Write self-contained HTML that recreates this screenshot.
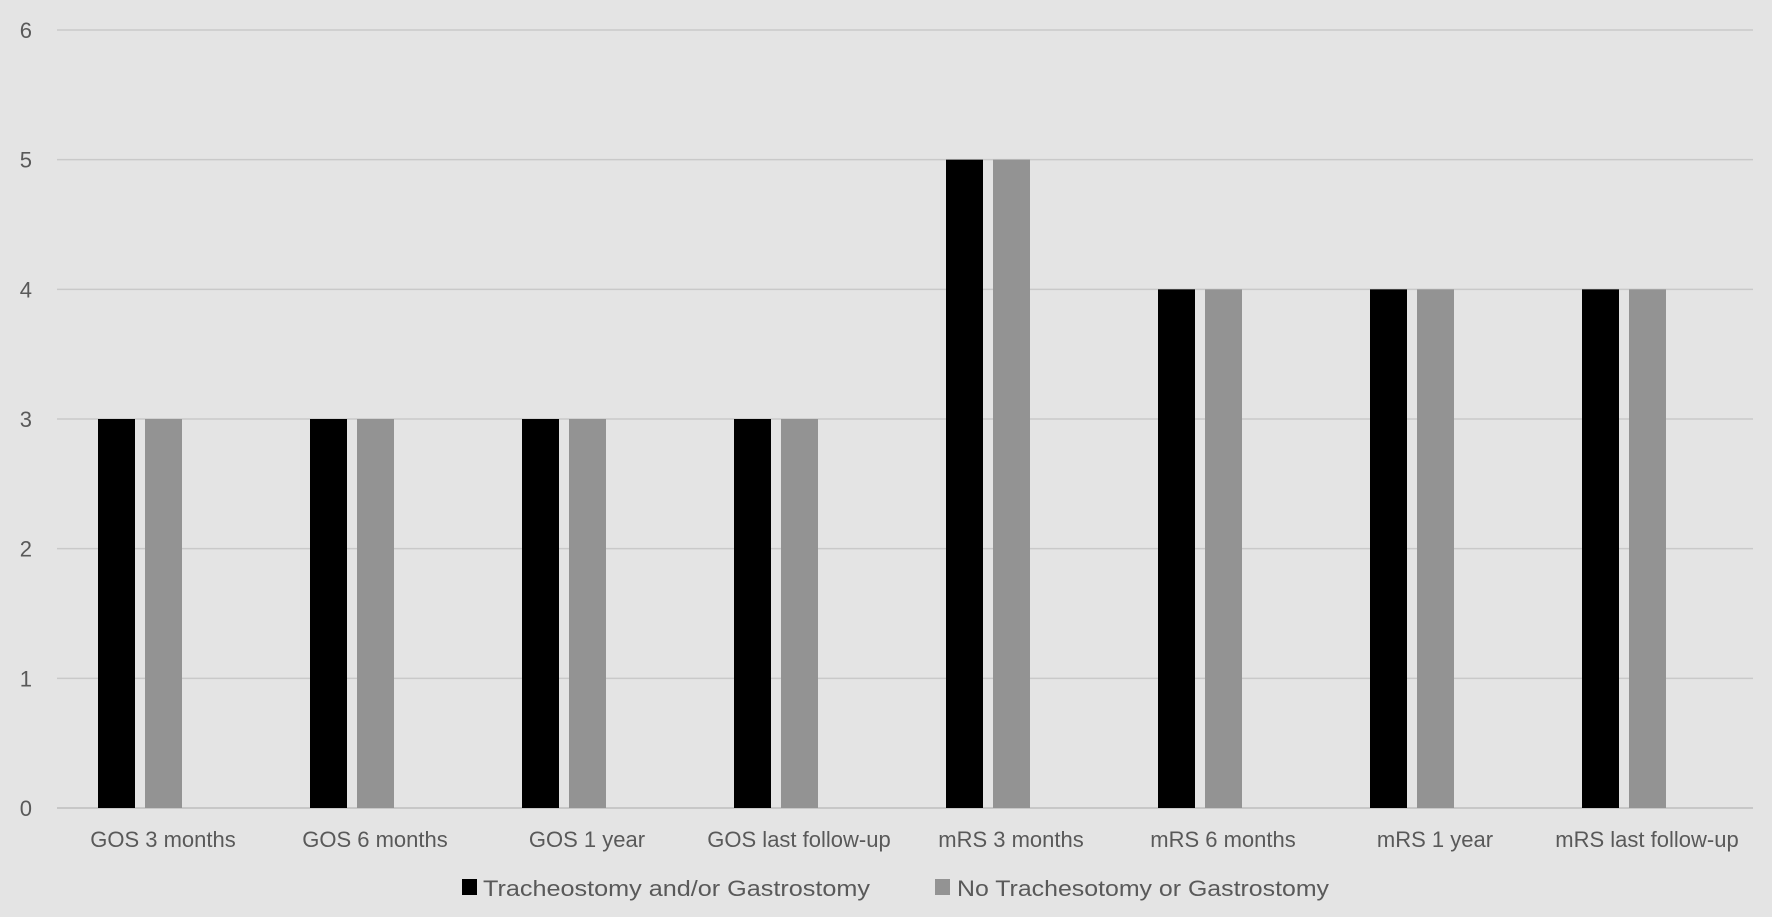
<!DOCTYPE html>
<html><head><meta charset="utf-8"><style>
html,body{margin:0;padding:0;background:#e4e4e4;}
svg{display:block;font-family:"Liberation Sans",sans-serif;}
</style></head><body>
<svg id="chart" width="1772" height="917" viewBox="0 0 1772 917" xmlns="http://www.w3.org/2000/svg">
<rect width="1772" height="917" fill="#e4e4e4"/>
<g id="grid"></g><g id="bars"></g><g id="labels"></g>
<g>
<rect x="462" y="879" width="15" height="16" fill="#000"/>
<text x="483" y="896" font-size="22" fill="#595959" textLength="387" lengthAdjust="spacingAndGlyphs">Tracheostomy and/or Gastrostomy</text>
<rect x="935" y="879" width="15" height="16" fill="#939393"/>
<text x="957" y="896" font-size="22" fill="#595959" textLength="372" lengthAdjust="spacingAndGlyphs">No Trachesotomy or Gastrostomy</text>
</g>
</svg>
<script>
const categories=["GOS 3 months","GOS 6 months","GOS 1 year","GOS last follow-up","mRS 3 months","mRS 6 months","mRS 1 year","mRS last follow-up"];
const seriesTrach=[3,3,3,3,5,4,4,4];
const seriesNoTrach=[3,3,3,3,5,4,4,4];
const yTicks=[0,1,2,3,4,5,6];
const NS="http://www.w3.org/2000/svg";
const L=57,R=1753,T=30,B=808,YMAX=6;
const cw=(R-L)/categories.length;
const y=v=>B-(v/YMAX)*(B-T);
const xc=i=>L+i*cw;
function mk(tag,attrs,parent){const e=document.createElementNS(NS,tag);for(const k in attrs)e.setAttribute(k,attrs[k]);parent.appendChild(e);return e;}
const grid=document.getElementById('grid'),bars=document.getElementById('bars'),labels=document.getElementById('labels');
yTicks.forEach(t=>{
 const ln=mk('line',{x1:L,x2:R,y1:y(t),y2:y(t),stroke:t===0?'#bdbdbd':'#c9c9c9','stroke-width':1.5},grid);
 
 
 const tx=mk('text',{x:32,y:y(t)+8,'font-size':22,fill:'#595959','text-anchor':'end'},labels);
 tx.textContent=t;
 
 
});
categories.forEach((c,i)=>{
 const b1=mk('rect',{x:xc(i)+41,y:y(seriesTrach[i]),width:37,height:B-y(seriesTrach[i]),fill:'#000'},bars);
 
 
 const b2=mk('rect',{x:xc(i)+88,y:y(seriesNoTrach[i]),width:37,height:B-y(seriesNoTrach[i]),fill:'#939393'},bars);
 
 
 const tx=mk('text',{x:xc(i)+cw/2,y:847,'font-size':22,fill:'#595959','text-anchor':'middle'},labels);
 tx.textContent=c;
 
 
});
</script>
</body></html>
